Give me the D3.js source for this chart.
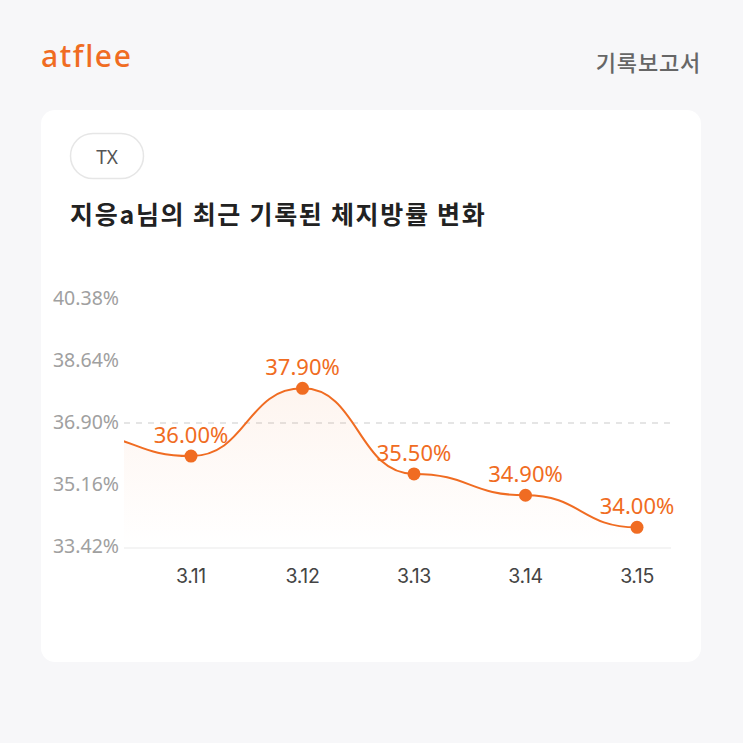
<!DOCTYPE html>
<html><head><meta charset="utf-8">
<script src="https://cdn.jsdelivr.net/npm/d3@7"></script>
<style>
html,body{margin:0;padding:0;background:#f7f7f9;}
svg{display:block;}
</style></head>
<body>
<svg id="c" width="743" height="743"></svg>
<script>
const categories = ["3.11","3.12","3.13","3.14","3.15"];
const values = [36.00, 37.90, 35.50, 34.90, 34.00];
const prevValue = 36.6; // earlier record, cut off by the plot edge
const yTicks = [33.42, 35.16, 36.90, 38.64, 40.38];
const refValue = 36.90;
const title = "지응a님의 최근 기록된 체지방률 변화";

const orange = "#f06c22";
const svg = d3.select("#c");

// background
svg.append("rect").attr("width",743).attr("height",743).attr("fill","#f7f7f9");
// logo + header
svg.append("text").attr("x",41).attr("y",67).text("atflee")
  .attr("font-family","'Noto Sans', sans-serif").attr("font-size",30).attr("font-weight",500)
  .attr("fill",orange).attr("letter-spacing",1.6);
svg.append("text").attr("x",701).attr("y",71).attr("text-anchor","end").text("기록보고서")
  .attr("font-family","'Noto Sans CJK KR', sans-serif").attr("font-size",22).attr("font-weight",500)
  .attr("letter-spacing",0.8).attr("fill","#666");

// card
svg.append("rect").attr("x",41).attr("y",110).attr("width",660).attr("height",552).attr("rx",14).attr("fill","#fff");

// pill
svg.append("rect").attr("x",70.5).attr("y",133.5).attr("width",73).attr("height",45).attr("rx",22.5)
  .attr("fill","#fff").attr("stroke","#e6e6e6").attr("stroke-width",1.5);
svg.append("text").attr("x",107).attr("y",163.5).attr("text-anchor","middle").text("TX")
  .attr("font-family","'Noto Sans', sans-serif").attr("font-size",19).attr("fill","#555");

// title
svg.append("text").attr("x",70).attr("y",224).text(title)
  .attr("font-family","'Noto Sans CJK KR', sans-serif").attr("font-size",25).attr("font-weight",700)
  .attr("letter-spacing",1.7).attr("fill","#222");

// scales
const plotL = 124, plotR = 671;
const x = d3.scalePoint().domain(categories).range([191, 637]);
const y = d3.scaleLinear().domain([yTicks[0], yTicks[yTicks.length-1]]).range([548, 300]);

const pts = values.map((v,i)=>({x:x(categories[i]), y:y(v), v}));
const allPts = [{x: x(categories[0]) - x.step(), y: y(prevValue)}].concat(pts);

const defs = svg.append("defs");
defs.append("clipPath").attr("id","clip").append("rect")
  .attr("x",plotL).attr("y",280).attr("width",plotR-plotL).attr("height",268);
const grad = defs.append("linearGradient").attr("id","g").attr("x1",0).attr("y1",0).attr("x2",0).attr("y2",1);
grad.append("stop").attr("offset","0%").attr("stop-color",orange).attr("stop-opacity",0.07);
grad.append("stop").attr("offset","100%").attr("stop-color",orange).attr("stop-opacity",0.0);

// y tick labels
svg.append("g").selectAll("text").data(yTicks).join("text")
  .attr("x",119).attr("y",d=>y(d)).attr("dy","0.26em").attr("text-anchor","end")
  .text(d=>d.toFixed(2)+"%")
  .attr("font-family","'Noto Sans', sans-serif").attr("font-size",19.5).attr("fill","#a0a0a0");

// baseline
svg.append("line").attr("x1",plotL).attr("x2",plotR).attr("y1",y(yTicks[0])).attr("y2",y(yTicks[0]))
  .attr("stroke","#f1f1f1").attr("stroke-width",1.5);
// dashed reference
svg.append("line").attr("x1",plotL).attr("x2",plotR).attr("y1",y(refValue)-1).attr("y2",y(refValue)-1)
  .attr("stroke","#dddddd").attr("stroke-width",1.5).attr("stroke-dasharray","6,6");

const g = svg.append("g").attr("clip-path","url(#clip)");
const area = d3.area().x(d=>d.x).y0(y(yTicks[0])).y1(d=>d.y).curve(d3.curveBumpX);
g.append("path").datum(allPts).attr("d",area).attr("fill","url(#g)");
const line = d3.line().x(d=>d.x).y(d=>d.y).curve(d3.curveBumpX);
g.append("path").datum(allPts).attr("d",line).attr("fill","none").attr("stroke",orange).attr("stroke-width",2);

// points
svg.append("g").selectAll("circle").data(pts).join("circle")
  .attr("cx",d=>d.x).attr("cy",d=>d.y).attr("r",6.5).attr("fill",orange);
// value labels
svg.append("g").selectAll("text").data(pts).join("text")
  .attr("x",d=>d.x).attr("y",d=>d.y-13).attr("text-anchor","middle")
  .text(d=>d.v.toFixed(2)+"%")
  .attr("font-family","'Noto Sans', sans-serif").attr("font-size",22).attr("fill",orange);

// x labels
svg.append("g").selectAll("text").data(categories).join("text")
  .attr("x",d=>x(d)).attr("y",583).attr("text-anchor","middle").text(d=>d)
  .attr("font-family","Inter, sans-serif").attr("font-size",19.5).attr("letter-spacing",-0.4).attr("fill","#444");
</script>
</body></html>
